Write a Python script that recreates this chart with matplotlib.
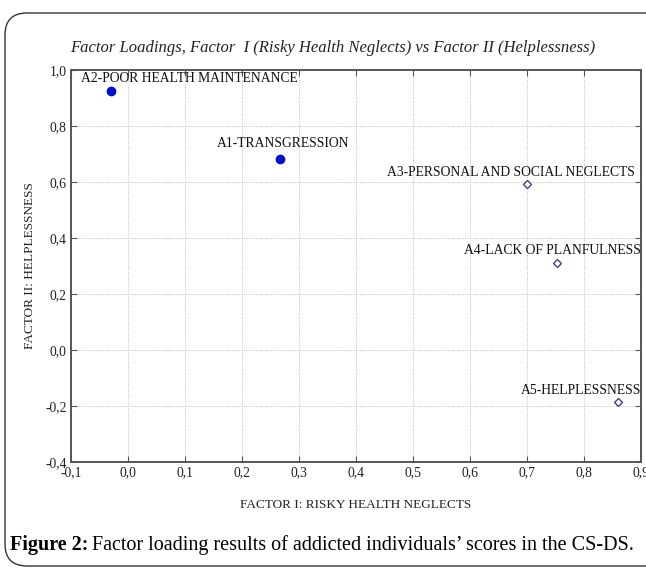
import matplotlib
matplotlib.use("Agg")
import matplotlib.pyplot as plt
from matplotlib.patches import FancyBboxPatch
from matplotlib.ticker import FuncFormatter, MultipleLocator

categories = ["A1-TRANSGRESSION", "A2-POOR HEALTH MAINTENANCE",
              "A3-PERSONAL AND SOCIAL NEGLECTS", "A4-LACK OF PLANFULNESS",
              "A5-HELPLESSNESS"]
factor1 = [0.267, -0.03, 0.70, 0.753, 0.86]
factor2 = [0.682, 0.925, 0.593, 0.311, -0.186]
filled = [True, True, False, False, False]
# label offsets in pixels (layout only)
label_dx = [3, 78, -16, -5, -37]
label_dy = [16, 12, 11, 12, 12]

serif = ["Liberation Serif", "DejaVu Serif"]
plt.rcParams['font.family'] = serif

fig = plt.figure(figsize=(6.46, 5.69), dpi=100)
fig.patch.set_facecolor("white")

# outer rounded frame
frame = FancyBboxPatch((0.05, 0.03), 6.8, 5.53,
                       boxstyle="round,pad=0,rounding_size=0.22",
                       transform=fig.dpi_scale_trans, fill=False,
                       edgecolor="#333333", linewidth=1.0)
fig.add_artist(frame)

ax = fig.add_axes([71/646, 1-462/569, (641-71)/646, (462-70)/569])
ax.set_xlim(-0.1, 0.9)
ax.set_ylim(-0.4, 1.0)
ax.xaxis.set_major_locator(MultipleLocator(0.1))
ax.yaxis.set_major_locator(MultipleLocator(0.2))
fmt = FuncFormatter(lambda v, p: f"{v:.1f}".replace(".", ",").replace("-0,0", "0,0"))
ax.xaxis.set_major_formatter(fmt)
ax.yaxis.set_major_formatter(fmt)
ax.grid(True, color="#bbbbbb", linestyle=(0, (1, 1.5)), linewidth=0.7)
ax.tick_params(direction="in", length=4, width=0.8, color="#555555",
               labelsize=9.8, top=True, right=True, pad=3, labelcolor="#222222")
for s in ax.spines.values():
    s.set_color("#555555")
    s.set_linewidth(1.4)

for x, y, lab, f, dx, dy in zip(factor1, factor2, categories, filled, label_dx, label_dy):
    if f:
        ax.plot(x, y, "o", color="#0010c8", markersize=6, zorder=3)
    else:
        ax.plot(x, y, "D", markerfacecolor="white", markeredgecolor="#303080",
                markersize=4, markeredgewidth=0.9, zorder=3)
    ax.annotate(lab, (x, y), xytext=(dx, dy), textcoords="offset pixels",
                ha="center", va="center", fontsize=9.8, color="#111111")

ax.set_xlabel("FACTOR I: RISKY HEALTH NEGLECTS", fontsize=9.5, labelpad=14, color="#222222")
ax.set_ylabel("FACTOR II: HELPLESSNESS", fontsize=9.5, labelpad=7, color="#222222")

fig.text(333/646, 1-48/569, "Factor Loadings, Factor  I (Risky Health Neglects) vs Factor II (Helplessness)",
         ha="center", va="center", fontsize=12, style="italic", color="#222222")

t1 = fig.text(10/646, 1-545/569, "Figure 2:", ha="left", va="center", fontsize=14.5, weight="bold")
fig.canvas.draw()
bb = t1.get_window_extent()
fig.text((bb.x1 + 4)/646, 1-545/569, "Factor loading results of addicted individuals\u2019 scores in the CS-DS.",
         ha="left", va="center", fontsize=14.5)

fig.savefig("out.png", dpi=100)
